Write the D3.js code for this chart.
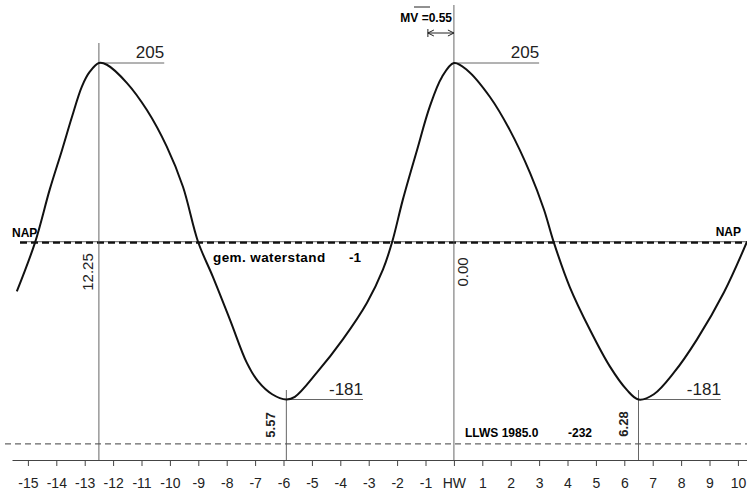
<!DOCTYPE html>
<meta charset="utf-8">
<style>
    body { margin: 0; background: #fff; }
    svg { display: block; font-family: "Liberation Sans", Arial, sans-serif; }
    .axis path, .axis line { stroke: #444; stroke-width: 1px; }
    .axis text { font-size: 14px; fill: #222; }
    .bold { font-weight: bold; }
</style>
<body>
<svg id="chart" width="747" height="494"></svg>
</body>
<script src="https://d3js.org/d3.v7.min.js"></script>
<script>

    // tide curve: hours relative to HW, level in cm
    var tideHours = [-15.39, -14.75, -14.23, -13.80, -13.45, -13.10, -12.82, -12.5, -12.22, -11.51,
        -10.81, -10.11, -9.54, -9.01, -8.49, -7.89, -7.29, -6.9, -6.4, -5.9, -5.6, -4.82, -3.91,
        -3.06, -2.50, -2.18, -1.80, -1.30, -0.85, -0.42, 0, 0.46, 1.27, 1.97, 2.68, 3.17,
        3.52, 4.08, 4.79, 5.49, 6.09, 6.5, 7.04, 7.75, 8.56, 9.51, 10.32];
    var tideLevels = [-57, -1, 60, 105, 143, 178, 195, 205, 203, 182,
        151, 109, 63, 0, -40, -89, -139, -160, -175, -181, -178, -150, -112,
        -70, -32, -1, 48, 105, 155, 189, 205, 197, 166, 128, 79, 37,
        -1, -52, -101, -143, -170, -181, -175, -150, -112, -58, 0];

    // high and low waters
    var extremeHours = [-12.5, -5.9, 0, 6.5];
    var extremeLevels = [205, -181, 205, -181];
    var extremeLabels = ["205", "-181", "205", "-181"];
    var extremeTimes = ["12.25", "5.57", "0.00", "6.28"];

    // reference levels
    var napLevel = 0;
    var meanLevel = -1;
    var llwsLevel = -232;
    var mvHours = 55 / 60;

    var tickHours = d3.range(-15, 11);

    var svg = d3.select("#chart");

    var x = d3.scaleLinear().domain([-15.56, 10.32]).range([12, 747]);
    var y = d3.scaleLinear().domain([-181, 205]).range([399.5, 63]);

    // horizontal reference lines
    svg.append("line")
        .attr("x1", 5).attr("x2", 747)
        .attr("y1", y(llwsLevel)).attr("y2", y(llwsLevel))
        .attr("stroke", "#666").attr("stroke-width", 1.2)
        .attr("stroke-dasharray", "6,4");

    svg.append("line")
        .attr("x1", 20).attr("x2", 747)
        .attr("y1", y(napLevel)).attr("y2", y(napLevel))
        .attr("stroke", "#333").attr("stroke-width", 0.8);

    svg.append("line")
        .attr("x1", 20).attr("x2", 747)
        .attr("y1", y(meanLevel)).attr("y2", y(meanLevel))
        .attr("stroke", "#111").attr("stroke-width", 2.2)
        .attr("stroke-dasharray", "7,4");

    // vertical lines at HW / LW
    var vTop = [43, 390, 5, 390];
    extremeHours.forEach(function (h, i) {
        svg.append("line")
            .attr("x1", x(h)).attr("x2", x(h))
            .attr("y1", vTop[i]).attr("y2", 460)
            .attr("stroke", "#555").attr("stroke-width", 0.9);
    });

    // level leader lines + labels
    var leaderLen = [2.3, 2.7, 3.0, 2.9];
    extremeHours.forEach(function (h, i) {
        var yy = y(extremeLevels[i]);
        var x2 = x(h + leaderLen[i]);
        svg.append("line")
            .attr("x1", x(h)).attr("x2", x2)
            .attr("y1", yy).attr("y2", yy)
            .attr("stroke", "#555").attr("stroke-width", 0.9);
        svg.append("text")
            .attr("x", x2).attr("y", yy - 5)
            .attr("text-anchor", "end")
            .attr("font-size", 17)
            .attr("fill", "#222")
            .text(extremeLabels[i]);
    });

    // rotated time labels
    var timeOffset = [-6, -11, 14, -11];
    var timeY = [272, 425, 272, 424];
    extremeTimes.forEach(function (t, i) {
        var tx = x(extremeHours[i]) + timeOffset[i];
        svg.append("text")
            .attr("class", i % 2 ? "bold" : null)
            .attr("transform", "translate(" + tx + "," + timeY[i] + ") rotate(-90)")
            .attr("text-anchor", "middle")
            .attr("font-size", i % 2 ? 13 : 15)
            .attr("fill", "#222")
            .text(t);
    });

    // tide curve
    var line = d3.line()
        .x(function (d, i) { return x(tideHours[i]); })
        .y(function (d) { return y(d); })
        .curve(d3.curveCatmullRom.alpha(0.5));

    svg.append("path")
        .datum(tideLevels)
        .attr("d", line)
        .attr("fill", "none")
        .attr("stroke", "#111")
        .attr("stroke-width", 2);

    // texts
    svg.append("text").attr("class", "bold").attr("x", 12).attr("y", 237)
        .attr("font-size", 12).text("NAP");
    svg.append("text").attr("class", "bold").attr("x", 741).attr("y", 236)
        .attr("font-size", 12).attr("text-anchor", "end").text("NAP");
    svg.append("text").attr("class", "bold").attr("x", 213).attr("y", 262)
        .attr("font-size", 13.5).attr("letter-spacing", 0.4).text("gem. waterstand");
    svg.append("text").attr("class", "bold").attr("x", 349).attr("y", 262)
        .attr("font-size", 13.5).text("-1");
    svg.append("text").attr("class", "bold").attr("x", 465).attr("y", 437)
        .attr("font-size", 12).text("LLWS 1985.0");
    svg.append("text").attr("class", "bold").attr("x", 568).attr("y", 437)
        .attr("font-size", 12).text("-232");

    // MV annotation
    svg.append("text").attr("class", "bold").attr("x", 452).attr("y", 22)
        .attr("font-size", 12).attr("text-anchor", "end").text("MV =0.55");
    svg.append("line").attr("x1", 414).attr("x2", 430).attr("y1", 7).attr("y2", 7)
        .attr("stroke", "#222").attr("stroke-width", 1);
    var mvY = 33;
    svg.append("line").attr("x1", x(-mvHours)).attr("x2", x(0)).attr("y1", mvY).attr("y2", mvY)
        .attr("stroke", "#222").attr("stroke-width", 1);
    svg.append("line").attr("x1", x(-mvHours)).attr("x2", x(-mvHours)).attr("y1", mvY - 4).attr("y2", mvY + 4)
        .attr("stroke", "#222").attr("stroke-width", 1);
    svg.append("path")
        .attr("d", "M" + (x(-mvHours) + 6) + "," + (mvY - 3) + "L" + x(-mvHours) + "," + mvY + "L" + (x(-mvHours) + 6) + "," + (mvY + 3)
            + "M" + (x(0) - 6) + "," + (mvY - 3) + "L" + x(0) + "," + mvY + "L" + (x(0) - 6) + "," + (mvY + 3))
        .attr("fill", "none").attr("stroke", "#222").attr("stroke-width", 1);

    // x axis
    svg.append("g")
        .attr("class", "axis")
        .attr("transform", "translate(0,460)")
        .call(d3.axisBottom(x)
            .tickValues(tickHours)
            .tickSize(6)
            .tickSizeOuter(0)
            .tickPadding(12)
            .tickFormat(function (d) { return d === 0 ? "HW" : String(d); }));

</script>
